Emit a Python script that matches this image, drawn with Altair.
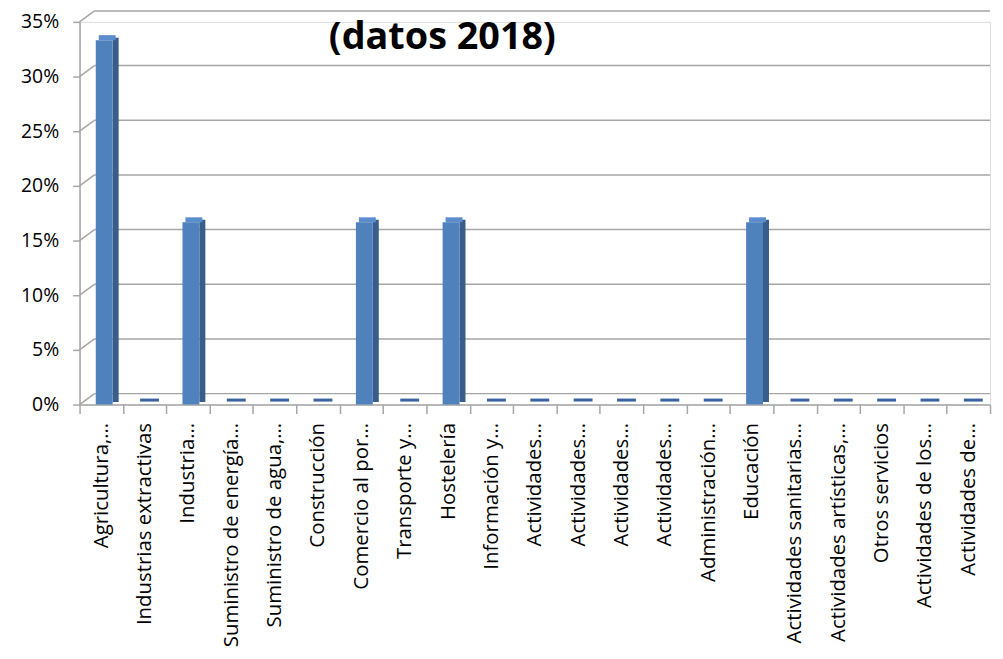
import json
import altair as alt
import pandas as pd

labels = [
    "Agricultura,…", "Industrias extractivas", "Industria…", "Suministro de energía…",
    "Suministro de agua,…", "Construcción", "Comercio al por…", "Transporte y…",
    "Hostelería", "Información y…", "Actividades…", "Actividades…", "Actividades…",
    "Actividades…", "Administración…", "Educación", "Actividades sanitarias…",
    "Actividades artísticas,…", "Otros servicios", "Actividades de los…", "Actividades de…",
]
shares = [0.3333, 0, 0.1667, 0, 0, 0, 0.1667, 0, 0.1667, 0, 0, 0, 0, 0, 0, 0.1667, 0, 0, 0, 0, 0]
tick_values = [0, 0.05, 0.10, 0.15, 0.20, 0.25, 0.30, 0.35]
title_text = "(datos 2018)"

W, H = 916, 385
FONT = "Open Sans"
GRID = "#a6a6a6"

df = pd.DataFrame({"idx": list(range(len(labels))), "share": shares})
ticks_df = pd.DataFrame({"t": tick_values})

yscale = alt.Scale(domain=[0, 0.35], nice=False, zero=True)
label_expr = json.dumps(labels, ensure_ascii=False) + "[datum.value]"

yaxis = alt.Axis(
    title=None, format=".0%", values=tick_values, grid=False,
    labelFontSize=19.5, labelFont=FONT, labelColor="#000",
    tickSize=7, tickColor=GRID, tickWidth=1.5, domainColor=GRID, domainWidth=1.5,
    labelPadding=14,
)

xenc = alt.X(
    "idx:O",
    scale=alt.Scale(paddingInner=0, paddingOuter=0),
    axis=alt.Axis(
        title=None, labelExpr=label_expr, labelAngle=270, labelAlign="right",
        labelBaseline="middle", labelFontSize=20.5, labelFont=FONT, labelColor="#000",
        tickBand="extent", tickSize=9, tickColor=GRID, tickWidth=1.5,
        domainColor=GRID, domainWidth=1.5, labelPadding=9, labelLimit=0,
    ),
)
yenc = alt.Y("share:Q", scale=yscale, axis=yaxis)

grid = alt.Chart(ticks_df).mark_rule(color=GRID, strokeWidth=1.5, yOffset=-11).encode(
    y=alt.Y("t:Q", scale=yscale, axis=yaxis),
    x=alt.value(15), x2=alt.value(W),
)
diag = alt.Chart(ticks_df).mark_rule(color=GRID, strokeWidth=1.5, y2Offset=-11).encode(
    y=alt.Y("t:Q", scale=yscale, axis=yaxis), y2="t:Q",
    x=alt.value(0), x2=alt.value(15),
)

zero_marks = alt.Chart(df).transform_filter("datum.share == 0").mark_bar(
    size=19, xOffset=5, yOffset=-6, y2Offset=-3, color="#3a62a0"
).encode(x=xenc, y=yenc, y2="share:Q")

side = alt.Chart(df).transform_filter("datum.share > 0").mark_bar(
    size=6, xOffset=14.5, yOffset=-2.5, y2Offset=-2.5, color="#385D8A"
).encode(x=xenc, y=yenc, y2=alt.datum(0))

top = alt.Chart(df).transform_filter("datum.share > 0").mark_bar(
    size=17, xOffset=6, yOffset=-5, y2Offset=0, color="#5b8ccb"
).encode(x=xenc, y=yenc, y2="share:Q")

front = alt.Chart(df).transform_filter("datum.share > 0").mark_bar(
    size=17, xOffset=3, color="#4F81BD"
).encode(x=xenc, y=yenc, y2=alt.datum(0))

title = alt.Chart(pd.DataFrame({"t": [title_text]})).mark_text(
    font=FONT, fontSize=38, fontWeight="bold", color="#000", align="center", baseline="middle"
).encode(text="t:N", x=alt.value(365), y=alt.value(16))

chart = alt.layer(grid, diag, zero_marks, side, top, front, title).properties(
    width=W, height=H,
    autosize=alt.AutoSizeParams(type="none"),
    padding={"left": 72, "top": 12, "right": 5, "bottom": 250},
).configure_view(stroke=None).configure(background="white")

chart.save("out.html", embed_options={"renderer": "svg", "actions": False})
